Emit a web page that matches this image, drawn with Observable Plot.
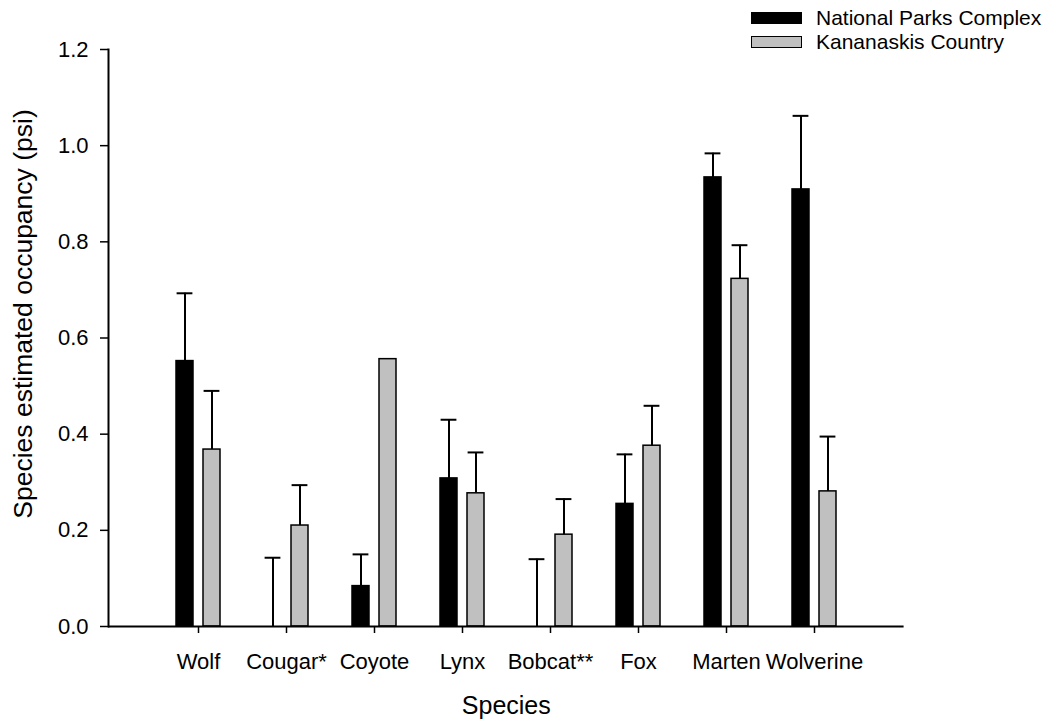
<!DOCTYPE html>
<html>
<head>
<meta charset="utf-8">
<script src="https://cdn.jsdelivr.net/npm/d3@7"></script>
<script src="https://cdn.jsdelivr.net/npm/@observablehq/plot@0.6"></script>
<style>
  html, body { margin: 0; padding: 0; background: #fff; }
  #wrap { position: relative; width: 1060px; height: 722px; font-family: "Liberation Sans", Arial, sans-serif; }
  #legend { position: absolute; left: 751px; top: 6px; font-size: 21px; line-height: 24px; color: #000; }
  #legend .row { display: flex; align-items: center; height: 24px; }
  #legend .sw { box-sizing: border-box; width: 51px; height: 12px; border: 1.5px solid #000; margin-right: 14px; }
</style>
</head>
<body>
<div id="wrap">
  <div id="chart"></div>
  <div id="legend"></div>
</div>
<script>
// ---- data ----
const species = ["Wolf", "Cougar*", "Coyote", "Lynx", "Bobcat**", "Fox", "Marten", "Wolverine"];
const seriesNames = ["National Parks Complex", "Kananaskis Country"];
const seriesColors = ["#000000", "#c0c0c0"];
const npMean  = [0.552, 0.000, 0.084, 0.308, 0.000, 0.255, 0.934, 0.909];
const npUpper = [0.693, 0.143, 0.150, 0.430, 0.140, 0.358, 0.984, 1.062];
const kcMean  = [0.368, 0.210, 0.556, 0.277, 0.191, 0.376, 0.723, 0.281];
const kcUpper = [0.490, 0.294, null,  0.362, 0.265, 0.459, 0.793, 0.395];
const yTicks  = [0, 0.2, 0.4, 0.6, 0.8, 1.0, 1.2];
const xTitle = "Species";
const yTitle = "Species estimated occupancy (psi)";

const rows = species.map((s, i) => ({species: s, np: npMean[i], npHi: npUpper[i], kc: kcMean[i], kcHi: kcUpper[i]}));
const npErr = rows.filter(d => d.npHi != null);
const kcErr = rows.filter(d => d.kcHi != null);

const chart = Plot.plot({
  width: 1060,
  height: 722,
  marginLeft: 108,
  marginRight: 156.4,
  marginTop: 49,
  marginBottom: 96,
  style: {fontFamily: "'Liberation Sans', Arial, sans-serif", fontSize: "22px", background: "#fff", color: "#000"},
  x: {domain: species, paddingInner: 0.5, paddingOuter: 0.75, label: null},
  y: {domain: [0, 1.2], label: null},
  marks: [
    Plot.barY(rows, {x: "species", y: "np", fill: seriesColors[0], stroke: "#000", strokeWidth: 1.5, insetLeft: 0, insetRight: 27}),
    Plot.barY(rows, {x: "species", y: "kc", fill: seriesColors[1], stroke: "#000", strokeWidth: 1.5, insetLeft: 27, insetRight: 0}),
    Plot.ruleX(npErr, {x: "species", y1: "np", y2: "npHi", dx: -13.5, stroke: "#000", strokeWidth: 2}),
    Plot.tickY(npErr, {x: "species", y: "npHi", insetLeft: 0.6, insetRight: 27.6, stroke: "#000", strokeWidth: 2}),
    Plot.ruleX(kcErr, {x: "species", y1: "kc", y2: "kcHi", dx: 13.5, stroke: "#000", strokeWidth: 2}),
    Plot.tickY(kcErr, {x: "species", y: "kcHi", insetLeft: 27.6, insetRight: 0.6, stroke: "#000", strokeWidth: 2}),
    Plot.axisY({ticks: yTicks, tickFormat: d3.format(".1f"), tickSize: 8, tickPadding: 12, strokeWidth: 1.5, label: null}),
    Plot.axisX({tickSize: 7, tickPadding: 20, strokeWidth: 1.5, label: null}),
    Plot.ruleY([0], {stroke: "#000", strokeWidth: 2}),
    Plot.frame({anchor: "left", stroke: "#000", strokeWidth: 2}),
    Plot.text([xTitle], {text: d => d, frameAnchor: "bottom", lineAnchor: "top", textAnchor: "middle", dy: 70, fontSize: 25, fill: "#000"}),
    Plot.text([yTitle], {text: d => d, frameAnchor: "left", rotate: -90, lineAnchor: "top", textAnchor: "middle", dx: -95, dy: -24, fontSize: 26.5, fill: "#000"})
  ]
});
document.getElementById("chart").appendChild(chart);

const legend = document.getElementById("legend");
seriesNames.forEach((name, i) => {
  const row = document.createElement("div");
  row.className = "row";
  const sw = document.createElement("div");
  sw.className = "sw";
  sw.style.background = seriesColors[i];
  const t = document.createElement("span");
  t.textContent = name;
  row.appendChild(sw);
  row.appendChild(t);
  legend.appendChild(row);
});
</script>
</body>
</html>
